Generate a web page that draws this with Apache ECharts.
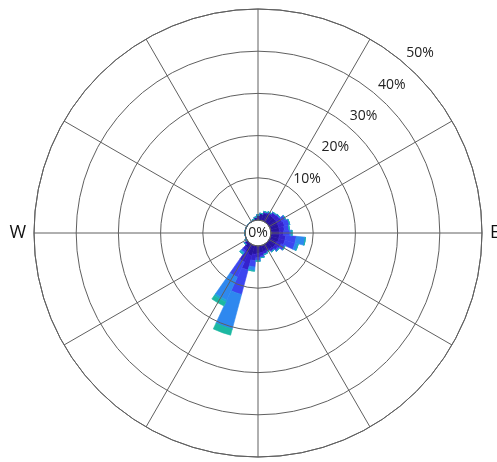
<!DOCTYPE html>
<html><head><meta charset="utf-8">
<script src="https://cdn.jsdelivr.net/npm/echarts@6/dist/echarts.min.js"></script>
<style>html,body{margin:0;padding:0;background:#fff}#c{width:497px;height:462px}</style>
</head><body><div id="c"></div>
<script>
// 36 wind directions (degrees from north, clockwise)
const directions = ['0','10','20','30','40','50','60','70','80','90','100','110','120','130','140','150','160','170',
  '180','190','200','210','220','230','240','250','260','270','280','290','300','310','320','330','340','350'];
// frequency (%) per speed class, per direction
const bin1 = [1.2,1.6,1.8,2.0,2.0,2.0,2.0,2.0,2.0,2.0,2.0,2.0,1.8,1.8,1.6,1.4,1.4,1.6, 1.8,2.0,2.5,2.0,1.2,0.6,0.3,0,0,0,0,0,0,0,0,0,0.3,0.7];
const bin2 = [0,0,0.4,0.5,0.8,1.0,1.2,1.4,1.2,1.0,1.5,1.5,1.2,0.8,0.6,0.5,0.6,0.8, 1.0,1.5,3.5,2.5,0.8,0.3,0,0,0,0,0,0,0,0,0,0,0,0];
const bin3 = [0,0,0,0,0.2,0.3,1.0,1.3,1.2,1.5,2.5,2.5,1.0,0.5,0.2,0,0.2,0.4, 0.6,1.5,6.0,4.0,0.5,0,0,0,0,0,0,0,0,0,0,0,0,0];
const bin4 = [0,0,0,0,0,0,0,0,0,0.5,2.2,0.8,0,0,0,0,0,0, 0.2,0.8,8.5,6.0,0.2,0,0,0,0,0,0,0,0,0,0,0,0,0];
const bin5 = [0,0,0,0,0,0,0,0,0,0,0,0,0,0,0,0,0,0, 0,0.2,0,0.5,0.4,0,0,0,0,0,0,0,0,0,0,0,0,0];
const bin6 = [0,0,0,0,0,0,0,0,0,0,0,0,0,0,0,0,0,0, 0,0,1.5,1.0,0,0,0,0,0,0,0,0,0,0,0,0,0,0];
const binNames = ['s1','s2','s3','s4','s5','s6'];
const radiusTicks = [0,10,20,30,40,50];
const compass = {90:'E', 270:'W'};

const CENTER = [258, 233];
const HOLE = 13, OUTER = 224, LABEL_SHIFT = 18;
const colors = ['#2814a0','#3522cc','#3c46f0','#2e88ef','#1fa6d2','#1cb8a2'];
const gridColor = '#606060';
const font = '"Open Sans", sans-serif';

const chart = echarts.init(document.getElementById('c'), null, {renderer:'canvas'});
const bins = [bin1,bin2,bin3,bin4,bin5,bin6];
chart.setOption({
  animation:false,
  backgroundColor:'#fff',
  polar:[
    {center:CENTER, radius:[HOLE, OUTER]},
    {center:CENTER, radius:[HOLE, OUTER]},
    {center:CENTER, radius:[HOLE+LABEL_SHIFT, OUTER+LABEL_SHIFT]}
  ],
  angleAxis:[
    {polarIndex:0, type:'value', min:0, max:360, interval:30, startAngle:90, clockwise:true, z:10,
     axisLine:{show:true, lineStyle:{color:gridColor, width:1}},
     axisTick:{show:false},
     splitLine:{show:true, lineStyle:{color:gridColor, width:1}},
     axisLabel:{show:true, margin:8, fontSize:18, color:'#111', fontFamily:font,
       formatter:v=>compass[v]||''}},
    {polarIndex:1, type:'category', data:directions, startAngle:95, clockwise:true, show:false,
     axisLine:{show:false}, splitLine:{show:false}, axisLabel:{show:false}, axisTick:{show:false}},
    {polarIndex:2, type:'value', min:0, max:360, startAngle:48, show:false,
     axisLine:{show:false}, splitLine:{show:false}, axisLabel:{show:false}, axisTick:{show:false}}
  ],
  radiusAxis:[
    {polarIndex:0, type:'value', min:radiusTicks[0], max:radiusTicks[radiusTicks.length-1], interval:10, z:10,
     axisLine:{show:false}, axisTick:{show:false}, axisLabel:{show:false},
     splitLine:{show:true, lineStyle:{color:gridColor, width:1}}},
    {polarIndex:1, type:'value', min:0, max:50, show:false,
     axisLine:{show:false}, axisTick:{show:false}, axisLabel:{show:false}, splitLine:{show:false}},
    {polarIndex:2, type:'value', min:0, max:50, interval:10,
     axisLine:{show:false}, axisTick:{show:false}, splitLine:{show:false},
     axisLabel:{show:true, margin:0, align:'center', verticalAlign:'middle', fontSize:14, color:'#222', fontFamily:font,
       formatter:v=> v===0 ? '' : v+'%'}}
  ],
  graphic:[{type:'text', x:CENTER[0], y:CENTER[1], z:20,
    style:{text:radiusTicks[0]+'%', align:'center', verticalAlign:'middle', textAlign:'center', textVerticalAlign:'middle',
      fontSize:14, fill:'#222', fontFamily:font}}],
  series: bins.map((d,i)=>({
    name:binNames[i], type:'bar', coordinateSystem:'polar', polarIndex:1, stack:'w',
    data:d, barCategoryGap:'0%', z:2,
    itemStyle:{color:colors[i], borderColor:colors[i], borderWidth:0.6}
  }))
});
</script></body></html>
